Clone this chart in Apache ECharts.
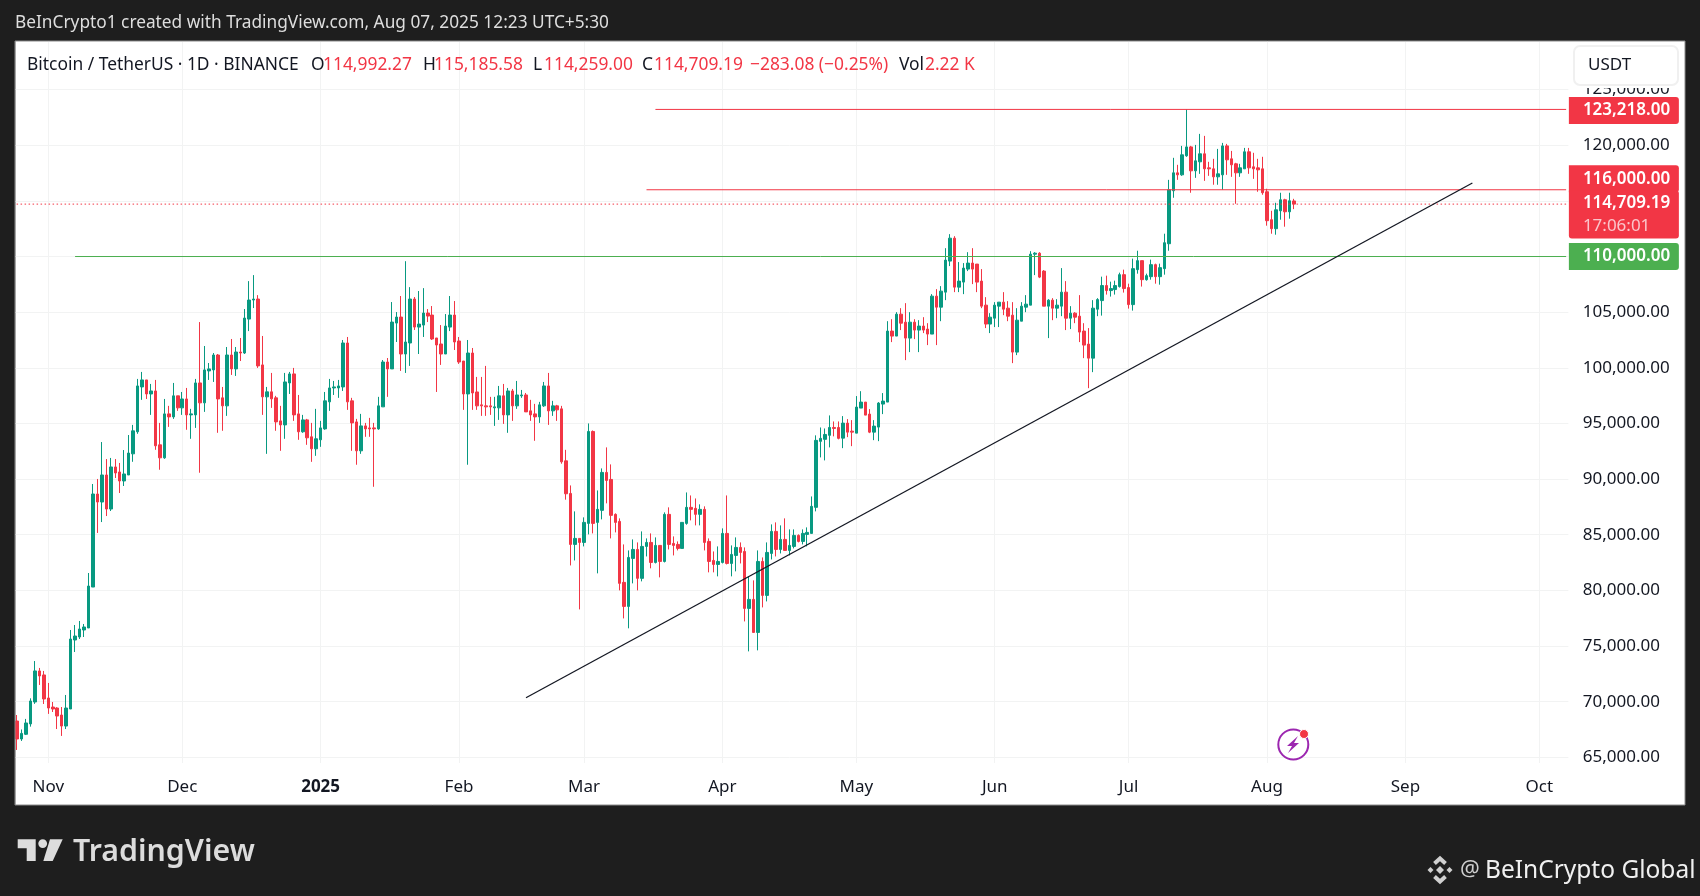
<!DOCTYPE html>
<html lang="en">
<head>
    <meta charset="UTF-8">
    <title>Bitcoin / TetherUS</title>
    <script src="https://cdn.jsdelivr.net/npm/echarts/dist/echarts.min.js"></script>
    <style>
        html, body { margin: 0; padding: 0; background: #1e1e1e; }
        #chart { width: 1700px; height: 896px; }
    </style>
</head>
<body>
<div id="chart"></div>
<script>
    // daily candles, each row is open, high, low, close
    var oct2024 = [
        [68262,68800,65660,66645],[66645,67500,66470,67150],[67070,68450,67000,68085],[68000,70300,67755,70060],
        [69970,73650,69800,72760],[72760,73030,71500,72310],[72400,72760,69790,70240]
    ];
    var nov2024 = [
        [70330,71680,68900,69430],[69520,69970,69070,69340],[69430,69500,67540,68710],[68800,69520,66920,67810],
        [67810,70600,67540,69430],[69340,76440,69340,75630],[75540,76890,74460,75900],[75810,77250,75630,76530],
        [76440,76980,75810,76710],[76620,81560,76620,80390],[80300,89560,80300,88660],[88660,90010,85160,87940],
        [87940,93330,86140,90370],[90370,91800,86680,87310],[87310,91900,87130,91090],[91090,91800,90100,90550],
        [90640,91450,88750,89830],[89830,92610,89380,90460],[90370,93960,90370,92340],[92270,94870,91555,94335],
        [94250,99000,94070,98370],[98280,99630,97120,98910],[98910,98910,97200,97650],[97650,98550,95770,97920],
        [97920,98910,92630,92990],[93080,95050,90840,91910],[91910,97200,91820,95860],[95860,96580,94690,95590],
        [95590,98640,95410,97480],[97480,97480,96130,96400]
    ];
    var dec2024 = [
        [96400,97830,95770,97200],[97200,98190,94430,95770],[95770,96310,93620,95860],[95770,99000,94600,98640],
        [98640,104110,90570,96850],[96850,101960,96040,99810],[99720,100430,98910,99900],[99810,101330,98730,101150],
        [101150,101240,94160,97200],[97300,98280,94340,96580],[96580,101870,95680,101150],[101150,102590,99360,99900],
        [99900,101870,99270,101420],[101420,102680,100610,101330],[101330,105280,101240,104470],[104380,107790,103300,106090],
        [106090,108330,105370,106180],[106180,106530,99990,100170],[100260,102860,95770,97390],[97390,98280,92270,97840],
        [97840,99540,96400,97210],[97300,97480,94340,95140],[95230,96580,92540,94870],[94870,99540,93620,98730],
        [98640,99630,97650,99450],[99450,99990,95230,95770],[95860,97560,93530,94250],[94250,95770,94160,95320],
        [95320,95410,93080,93710],[93800,95050,91550,92720],[92720,96310,92090,93620]
    ];
    var jan2025 = [
        [93530,95230,92900,94600],[94510,97830,94430,97030],[96940,99000,96130,98190],[98190,98820,97560,98280],
        [98190,98910,97300,98370],[98280,102500,97920,102230],[102230,102770,96220,96940],[97030,97300,92540,95050],
        [95140,95410,91290,92540],[92540,95860,92270,94780],[94780,95050,93800,94510],[94600,95500,93800,94510],
        [94600,95050,89310,94510],[94510,97390,94430,96580],[96490,100700,96490,100520],[100520,100880,97390,99900],
        [99900,105910,99900,104110],[104020,105010,102320,104560],[104560,106450,99720,101240],[101240,109580,99540,102320],
        [102230,107250,100170,106180],[106180,106360,103400,103660],[103660,106900,101240,103930],[103840,107160,102770,104920],
        [104920,105280,104110,104650],[104740,105550,102500,102590],[102680,102680,97830,102050],[102140,103840,100260,101240],
        [101240,104830,101240,103750],[103660,106450,103300,104740],[104740,106000,101600,102320]
    ];
    var feb2025 = [
        [102410,102770,100350,100520],[100610,100610,96220,97650],[97650,102500,91290,101330],[101330,101780,96220,97740],
        [97830,99180,96220,96580],[96670,99180,95680,96580],[96580,100170,95680,96490],[96580,97390,95770,96490],
        [96400,97390,94780,96490],[96400,98370,95320,97480],[97480,98550,94960,95770],[95770,98190,94160,97920],
        [97920,98100,95230,96580],[96580,98820,96310,97560],[97480,98010,97300,97560],[97560,97740,96040,96040],
        [96130,97120,95230,95770],[95860,96760,93440,95590],[95590,96940,95050,96670],[96580,98730,96490,98370],
        [98370,99540,94870,96130],[96130,97030,95680,96580],[96580,96670,95230,96220],[96310,96580,91380,91550],
        [91640,92630,88150,88680],[88710,89430,82240,84130],[84130,87100,82690,84670],[84670,84670,78290,84310]
    ];
    var mar2025 = [
        [84310,86560,83950,86110],[86020,95000,85030,94280],[94280,94370,85120,86020],[86110,88980,81530,87280],
        [87190,90960,86380,90600],[90600,92850,87820,89880],[89970,91320,84670,86740],[86830,86920,85210,86110],
        [86200,86470,80000,80630],[80720,84130,77480,78560],[78560,83590,76590,82960],[82870,84580,80630,83680],
        [83680,84310,80000,81080],[81080,85300,80810,83950],[83950,84670,83050,84310],[84310,85120,81980,82510],
        [82510,84760,82420,84040],[84040,84040,81170,82600],[82600,87010,82510,86830],[86830,87460,83680,84130],
        [84220,84850,83140,84040],[84130,84400,83590,83770],[83770,86110,83770,86110],[86020,88800,85900,87460],
        [87460,88530,86290,87280],[87370,88260,85840,86830],[86830,87730,85840,87280],[87280,87550,83590,84310],
        [84400,84670,81620,82600],[82690,83500,81620,82330],[82330,83950,81260,82600]
    ];
    var apr2025 = [
        [82510,85570,82420,85120],[85120,88530,82330,82420],[82420,84040,81260,83230],[83140,84760,81710,83860],
        [83860,84310,82420,83410],[83500,83860,77210,78380],[78380,81260,74520,79190],[79190,80900,76220,76220],
        [76220,83590,74610,82600],[82600,82960,78470,79550],[79550,84310,79010,83410],[83320,85930,82780,85300],
        [85300,86110,83050,83680],[83680,85840,83320,84580],[84580,86470,83590,83590],[83590,85480,83140,84040],
        [83950,85480,83770,84940],[84940,85030,84310,84400],[84400,85480,84130,85120],[85030,85660,83950,85210],
        [85120,88440,85120,87550],[87460,93930,87100,93480],[93390,94640,91950,93660],[93570,94550,91680,94010],
        [93930,95720,92850,94640],[94640,95180,93840,94550],[94640,95180,93570,93660],[93680,95660,92780,95030],
        [95030,95390,93770,94220],[94310,95300,92960,94220]
    ];
    var may2025 = [
        [94130,97460,94130,96470],[96380,97900,96380,96920],[96920,96920,95750,95750],[95840,96290,94130,94220],
        [94220,95300,93500,94760],[94670,96920,93410,96830],[96740,97730,95840,97010],[96920,104190,96920,103300],
        [103300,104370,102310,102850],[102850,105000,102850,104820],[104820,105360,103390,104010],[104100,105810,100690,102670],
        [102670,105000,101410,104100],[104100,104370,102580,103390],[103390,104280,101410,103750],[103750,104550,103120,103390],
        [103480,104010,102040,103030],[103030,106620,103030,106440],[106440,107070,102040,105450],[105450,107340,104190,106890],
        [106800,110750,106080,109680],[109590,112010,109140,111650],[111650,111830,106800,107250],[107250,109500,106800,107790],
        [107700,109410,106620,108960],[108870,110390,108690,109410],[109410,110750,107520,108870],[109320,109320,106800,107700],
        [107790,108870,105360,105540],[105630,106350,103570,103930],[103930,104910,103120,104550]
    ];
    var jun2025 = [
        [104460,105900,103660,105630],[105540,105900,103660,105900],[105900,106800,104730,105270],[105360,105990,104190,104640],
        [104730,105900,100420,101410],[101410,105360,101140,104280],[104190,105900,104190,105540],[105450,106530,105000,105720],
        [105630,110480,105630,110210],[110210,110390,108330,110300],[110300,110390,108060,108150],[108690,108780,105540,105540],
        [105540,106170,102670,106080],[106080,106260,104280,105360],[105360,106170,104460,105630],[105540,108960,104640,106800],
        [106800,107790,103390,104460],[104460,105540,103480,104910],[104910,105000,104010,104550],[104640,106530,102310,103210],
        [103300,104010,100870,102040],[102130,103570,98170,100870],[100870,106080,99610,105360],[105270,106260,104640,106130],
        [106040,108190,104690,107390],[107390,108280,106580,106940],[106940,107740,106400,107120],[107030,107830,106580,107390],
        [107300,108550,107210,108370],[108370,108820,106760,107120]
    ];
    var jul2025 = [
        [107210,107560,105320,105680],[105680,109810,105140,108910],[108820,110520,108460,109630],[109630,109630,107300,107920],
        [107920,108460,107830,108280],[108190,109720,107920,109270],[109270,109360,107560,108190],[108190,109360,107470,109000],
        [108910,112050,108370,111240],[111150,116890,110520,116000],[115910,118870,115280,117520],[117520,118240,116890,117340],
        [117340,119940,117250,119140],[119050,123218,118960,119850],[119850,119940,115730,117700],[117700,120030,117070,118600],
        [118510,121020,117430,119230],[119230,120840,116800,117880],[117970,118510,117250,117880],[117880,118780,116450,117160],
        [117160,119670,116450,117430],[117340,120210,116000,119940],[119940,120120,117340,118690],[118780,119490,117160,118240],
        [118330,118420,114740,117520],[117520,118330,117160,117970],[117880,119760,117880,119410],[119410,119760,117430,117970],
        [118060,119320,116980,117880],[117970,118780,115820,117790],[117880,118960,115550,115730]
    ];
    var aug2025 = [
        [115820,116090,112770,113220],[113310,114110,112050,112500],[112500,114830,111960,114200],[114110,115730,113310,115100],
        [115100,115190,112680,114020],[114020,115730,113400,115010],[114992.27,115185.58,114259,114709.19]
    ];

    var firstDay = '2024-10-24';   // one empty day left of the first candle
    var dayCount = 349;

    var monthDays = ['2024-11-01','2024-12-01','2025-01-01','2025-02-01','2025-03-01','2025-04-01','2025-05-01','2025-06-01','2025-07-01','2025-08-01','2025-09-01','2025-10-01'];
    var monthLabels = ['Nov','Dec','2025','Feb','Mar','Apr','May','Jun','Jul','Aug','Sep','Oct'];

    var resistanceTop = [['2025-03-17', 123218], ['2025-10-07', 123218]];
    var resistanceMid = [['2025-03-15', 116000], ['2025-10-07', 116000]];
    var supportLine = [['2024-11-07', 110000], ['2025-10-07', 110000]];
    var lastPrice = [['2024-10-24', 114709.19], ['2025-10-07', 114709.19]];
    var trendLine = [['2025-02-16', 70356], ['2025-09-16', 116608]];

    var legendParts = ['Bitcoin / TetherUS · 1D · BINANCE', 'O', '114,992.27', 'H', '115,185.58', 'L', '114,259.00', 'C', '114,709.19', '−283.08 (−0.25%)', 'Vol', '2.22 K'];
    var legendX = [27, 311, 323, 423, 434, 533, 544, 642, 654, 750, 899, 925];
    var legendRed = [false, false, true, false, true, false, true, false, true, true, false, true];

    var UP = '#089981', DOWN = '#F23645', GREEN_TAG = '#4CAF50', INK = '#131722';
    var FONT = '"Noto Sans", sans-serif';

    function makeDays(start, n) {
        var out = [];
        var t = Date.parse(start + 'T00:00:00Z');
        for (var i = 0; i < n; i++) {
            out.push(new Date(t + i * 86400000).toISOString().slice(0, 10));
        }
        return out;
    }

    var days = makeDays(firstDay, dayCount);
    var ohlc = [].concat(oct2024, nov2024, dec2024, jan2025, feb2025, mar2025, apr2025, may2025, jun2025, jul2025, aug2025);
    // candlestick wants open, close, low, high
    var candles = ohlc.map(function (r, i) {
        return [days[i + 1], r[0], r[3], r[2], r[1]];
    });

    function isMonthDay(index, value) {
        return monthDays.indexOf(value) >= 0;
    }

    function money(v) {
        return v.toLocaleString('en-US', { minimumFractionDigits: 2, maximumFractionDigits: 2 });
    }

    // flat line ending in a coloured price tag on the right axis
    function tagLine(name, points, color, lineType, tag) {
        var last = points[points.length - 1];
        return {
            name: name,
            type: 'line',
            silent: true,
            animation: false,
            symbol: 'none',
            showSymbol: true,
            showAllSymbol: true,
            lineStyle: { color: color, width: 1, type: lineType },
            data: [points[0], {
                value: last,
                symbol: 'circle',
                symbolSize: 0.1,
                itemStyle: { color: color },
                label: tag
            }]
        };
    }

    function tagLabel(text, color, offsetY) {
        return {
            show: true,
            position: 'right',
            distance: 0,
            offset: [2.7, offsetY],
            formatter: text,
            color: '#fff',
            fontFamily: FONT,
            fontSize: 17,
            fontWeight: 600,
            backgroundColor: color,
            borderRadius: [0, 3, 3, 0],
            width: 96,
            height: 27,
            lineHeight: 27,
            padding: [0, 0, 0, 14]
        };
    }

    var graphics = [
        // white panel behind the plot
        { type: 'rect', z: -1, shape: { x: 15, y: 41, width: 1670, height: 764 }, style: { fill: '#fff', stroke: '#8a8a8a', lineWidth: 1 } },
        // hides the grid lines that run left of the panel
        { type: 'rect', z: 100, shape: { x: 0, y: 38, width: 15, height: 770 }, style: { fill: '#1e1e1e' } },
        { type: 'rect', z: 100, shape: { x: 14.5, y: 41, width: 1, height: 764 }, style: { fill: '#8a8a8a' } },
        // USDT box over the clipped top label
        { type: 'rect', z: 100, shape: { x: 1570, y: 42, width: 112, height: 46 }, style: { fill: '#fff' } },
        { type: 'rect', z: 101, shape: { x: 1574, y: 46, width: 104, height: 39, r: 6 }, style: { fill: '#fff', stroke: '#f0f0f0', lineWidth: 2 } },
        { type: 'text', z: 102, style: { x: 1588, y: 65.5, text: 'USDT', fill: INK, font: '17px ' + FONT, textVerticalAlign: 'middle' } },
        // top and bottom strip text
        { type: 'text', z: 10, style: { x: 15, y: 23, text: 'BeInCrypto1 created with TradingView.com, Aug 07, 2025 12:23 UTC+5:30', fill: '#dedede', font: '17.3px ' + FONT, textVerticalAlign: 'middle' } },
        // TradingView logo
        { type: 'polygon', z: 10, shape: { points: [[17.7,839.3],[35.7,839.3],[35.7,861],[26.7,861],[26.7,848.3],[17.7,848.3]] }, style: { fill: '#dcdcdc' } },
        { type: 'circle', z: 10, shape: { cx: 42.7, cy: 843.6, r: 4.4 }, style: { fill: '#dcdcdc' } },
        { type: 'polygon', z: 10, shape: { points: [[50,839.3],[62.7,839.3],[52.7,861],[43.3,861]] }, style: { fill: '#dcdcdc' } },
        { type: 'text', z: 10, style: { x: 73, y: 852.5, text: 'TradingView', fill: '#dcdcdc', font: '600 30.3px ' + FONT, textVerticalAlign: 'middle' } },
        // binance mark
        { type: 'polygon', z: 10, shape: { points: [[1440,866],[1444,870],[1440,874],[1436,870]] }, style: { fill: '#d0d0d0' } },
        { type: 'polygon', z: 10, shape: { points: [[1430.5,867],[1433.5,870],[1430.5,873],[1427.5,870]] }, style: { fill: '#d0d0d0' } },
        { type: 'polygon', z: 10, shape: { points: [[1449.5,867],[1452.5,870],[1449.5,873],[1446.5,870]] }, style: { fill: '#d0d0d0' } },
        { type: 'polyline', z: 10, shape: { points: [[1434.5,863.5],[1440,858.5],[1445.5,863.5]] }, style: { stroke: '#d0d0d0', lineWidth: 4, fill: 'none' } },
        { type: 'polyline', z: 10, shape: { points: [[1434.5,876.5],[1440,881.5],[1445.5,876.5]] }, style: { stroke: '#d0d0d0', lineWidth: 4, fill: 'none' } },
        { type: 'text', z: 10, style: { x: 1460, y: 870, text: '@', fill: '#cfcfcf', font: '22px ' + FONT, textVerticalAlign: 'middle' } },
        { type: 'text', z: 10, style: { x: 1485, y: 871, text: 'BeInCrypto Global', fill: '#f0f0f0', font: '24.5px ' + FONT, textVerticalAlign: 'middle' } },
        // purple news badge
        { type: 'circle', z: 10, shape: { cx: 1293.3, cy: 744.5, r: 15 }, style: { fill: '#fff', stroke: '#9C27B0', lineWidth: 2 } },
        { type: 'polygon', z: 10, shape: { points: [[1298,736],[1287,746],[1292,746],[1288,753],[1299,743],[1294,743]] }, style: { fill: '#9C27B0' } },
        { type: 'circle', z: 11, shape: { cx: 1304, cy: 734, r: 4.5 }, style: { fill: DOWN, stroke: '#fff', lineWidth: 1 } }
    ];

    legendParts.forEach(function (part, i) {
        graphics.push({
            type: 'text', z: 10,
            style: { x: legendX[i], y: 65, text: part, fill: legendRed[i] ? DOWN : INK, font: '17.4px ' + FONT, textVerticalAlign: 'middle' }
        });
    });

    var chart = echarts.init(document.getElementById('chart'), null, { renderer: 'canvas' });

    chart.setOption({
        animation: false,
        backgroundColor: '#1e1e1e',
        graphic: { elements: graphics },
        grid: { left: 10.36, top: 42, width: 1558, height: 721, containLabel: false },
        xAxis: {
            type: 'category',
            data: days,
            boundaryGap: true,
            axisLine: { show: false },
            axisTick: { show: false },
            axisLabel: {
                interval: isMonthDay,
                color: INK,
                fontFamily: FONT,
                fontSize: 17,
                margin: 16,
                hideOverlap: false,
                formatter: function (value) {
                    var label = monthLabels[monthDays.indexOf(value)];
                    return label === '2025' ? '{year|2025}' : label;
                },
                rich: { year: { fontFamily: FONT, fontSize: 17, fontWeight: 'bold', color: INK } }
            },
            splitLine: { show: true, interval: isMonthDay, alignWithLabel: true, lineStyle: { color: '#f2f3f3', width: 1 } }
        },
        yAxis: {
            type: 'value',
            position: 'right',
            min: 64488,
            max: 129277,
            splitNumber: 13,
            axisLine: { show: false },
            axisTick: { show: false },
            axisLabel: {
                showMinLabel: false,
                showMaxLabel: false,
                color: INK,
                fontFamily: FONT,
                fontSize: 17,
                margin: 14.4,
                formatter: money
            },
            splitLine: { show: true, showMinLine: false, showMaxLine: false, lineStyle: { color: '#f2f3f3', width: 1 } }
        },
        series: [
            {
                name: 'BTCUSDT',
                type: 'candlestick',
                data: candles,
                encode: { x: 0, y: [1, 2, 3, 4] },
                barWidth: 3,
                itemStyle: { color: UP, color0: DOWN, borderColor: UP, borderColor0: DOWN, borderWidth: 1 }
            },
            tagLine('resistance top', resistanceTop, DOWN, 'solid', tagLabel(money(123218), DOWN, 1)),
            tagLine('resistance', resistanceMid, DOWN, 'solid', tagLabel(money(116000), DOWN, -11)),
            tagLine('last', lastPrice, DOWN, [1.5, 2.5], {
                show: true,
                position: 'right',
                distance: 0,
                offset: [2.7, 10.5],
                formatter: '{a|' + money(114709.19) + '}\n{b|17:06:01}',
                backgroundColor: DOWN,
                borderRadius: [0, 3, 3, 3],
                width: 96,
                padding: [1, 0, 1, 14],
                rich: {
                    a: { color: '#fff', fontFamily: FONT, fontSize: 17, fontWeight: 600, lineHeight: 23 },
                    b: { color: '#fbc5cb', fontFamily: FONT, fontSize: 17, lineHeight: 23 }
                }
            }),
            tagLine('support', supportLine, GREEN_TAG, 'solid', tagLabel(money(110000), GREEN_TAG, 0)),
            {
                name: 'trend',
                type: 'line',
                silent: true,
                symbol: 'none',
                lineStyle: { color: INK, width: 1.3 },
                data: trendLine
            }
        ]
    });
</script>
</body>
</html>
